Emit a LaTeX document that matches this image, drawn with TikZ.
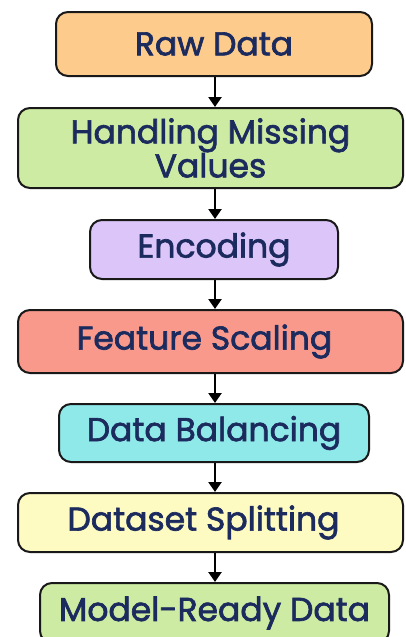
\documentclass[tikz,border=0pt]{standalone}
\usepackage{fontspec}
\setmainfont{Poppins}[FakeBold=2]
\usetikzlibrary{arrows.meta}
\definecolor{txtnavy}{HTML}{1C2B5E}
\definecolor{cOrange}{HTML}{FDCB8C}
\definecolor{cGreen}{HTML}{CDEBA2}
\definecolor{cLav}{HTML}{DCC5F8}
\definecolor{cSalmon}{HTML}{F9998C}
\definecolor{cCyan}{HTML}{90E9E9}
\definecolor{cYellow}{HTML}{FDFAC2}
\tikzset{
  stepbox/.style={draw=black!90, line width=2pt, rounded corners=12pt,
    text=txtnavy, align=center, inner sep=0pt,
    font=\fontsize{33}{34}\selectfont},
  flow/.style={line width=2.4pt, -{Triangle[width=13pt,length=10pt]}}
}
\begin{document}
\begin{tikzpicture}[x=1pt,y=-1pt]
\clip (0,0) rectangle (406,637);
\fill[white] (0,0) rectangle (406,637);
\coordinate (spine) at (215,0);
\node[stepbox, fill=cOrange, minimum width=316pt, minimum height=64pt] (raw) at (214,44) {Raw Data};
\node[stepbox, fill=cGreen, minimum width=385pt, minimum height=80pt] (miss) at (210.5,148) {Handling Missing\\Values};
\node[stepbox, fill=cLav, minimum width=248pt, minimum height=59pt] (enc) at (214,249.5) {Encoding};
\node[stepbox, fill=cSalmon, minimum width=385pt, minimum height=63pt] (scale) at (210.5,341.5) {Feature Scaling\hspace{12pt}};
\node[stepbox, fill=cCyan, minimum width=310pt, minimum height=58pt] (bal) at (214,433) {Data Balancing};
\node[stepbox, fill=cYellow, minimum width=385pt, minimum height=59pt] (split) at (210.5,522.5) {Dataset Splitting\hspace{14pt}};
\node[stepbox, fill=cGreen, minimum width=349pt, minimum height=60pt] (ready) at (214.5,613) {Model-Ready Data};
\draw[flow] (spine |- raw.south) -- (spine |- miss.north);
\draw[flow] (spine |- miss.south) -- (spine |- enc.north);
\draw[flow] (spine |- enc.south) -- (spine |- scale.north);
\draw[flow] (spine |- scale.south) -- (spine |- bal.north);
\draw[flow] (spine |- bal.south) -- (spine |- split.north);
\draw[flow] (spine |- split.south) -- (spine |- ready.north);
\end{tikzpicture}
\end{document}
